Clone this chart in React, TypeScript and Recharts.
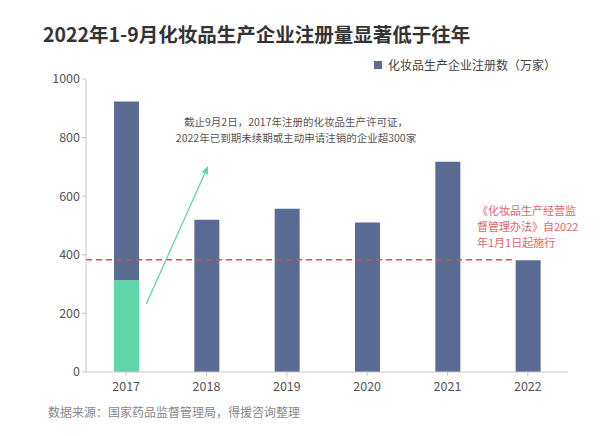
import {
  ComposedChart,
  Bar,
  XAxis,
  YAxis,
  Legend,
  ReferenceLine,
} from 'recharts';

const years = ['2017', '2018', '2019', '2020', '2021', '2022'];
// registered producers per year (2022: Jan-Sep)
const registered = [923, 520, 557, 510, 718, 381];
// part of 2017 registrations expired / cancelled by 2022
const expired = [313, 0, 0, 0, 0, 0];
const yTicks = [0, 200, 400, 600, 800, 1000];

// 2022 level marker and the arrow; x in bands (0 = left edge, 6 = right edge)
const markerLevel = 383;
const markerSpan = [0, 5.3];
const arrowFrom = { x: 0.75, y: 232 };
const arrowTo = { x: 1.52, y: 703 };

// the hidden helper axis resolves to [0, n - 1], so map band units onto it
const BAND_AXIS_MAX = years.length - 1;
const toAxis = (band: number) => (band * BAND_AXIS_MAX) / years.length;

const COLORS = {
  bar: '#5a6b94',
  expired: '#5fd6a9',
  marker: '#dd4b52',
  markerText: '#e2656a',
  axis: '#c8c8cc',
  tick: '#555',
};

const FONT = '"Noto Sans CJK SC", "Noto Sans", sans-serif';

const data = years.map((year, i) => ({
  year,
  expired: expired[i],
  remaining: registered[i] - expired[i],
}));

const LegendBox = () => (
  <div style={{ display: 'flex', alignItems: 'center', fontSize: 12, color: '#444', fontFamily: FONT }}>
    <span style={{ width: 8, height: 8, background: COLORS.bar, marginRight: 6, display: 'inline-block' }} />
    化妆品生产企业注册数（万家）
  </div>
);

const Arrow = (props: any) => {
  const { x1, y1, x2, y2 } = props;
  const ang = Math.atan2(y2 - y1, x2 - x1);
  const len = 8;
  const w = 3.5;
  const bx = x2 - len * Math.cos(ang);
  const by = y2 - len * Math.sin(ang);
  const p1 = `${bx + w * Math.sin(ang)},${by - w * Math.cos(ang)}`;
  const p2 = `${bx - w * Math.sin(ang)},${by + w * Math.cos(ang)}`;
  return (
    <g>
      <line x1={x1} y1={y1} x2={bx} y2={by} stroke={COLORS.expired} strokeWidth={1.3} />
      <polygon points={`${x2},${y2} ${p1} ${p2}`} fill={COLORS.expired} />
    </g>
  );
};

export default function App() {
  return (
    <div style={{ position: 'absolute', left: 0, top: 0, width: 600, height: 436, background: '#fff', fontFamily: FONT }}>
      <div style={{ position: 'absolute', left: 43, top: 19, fontSize: 19.5, fontWeight: 700, color: '#333', whiteSpace: 'nowrap' }}>
        2022年1-9月化妆品生产企业注册量显著低于往年
      </div>

      <ComposedChart width={600} height={436} data={data} margin={{ top: 62, right: 32, left: 0, bottom: 34 }}>
        <XAxis
          dataKey="year"
          axisLine={{ stroke: COLORS.axis }}
          tickLine={{ stroke: COLORS.axis }}
          tickSize={4}
          tickMargin={6}
          height={30}
          tick={{ fontSize: 12.5, fill: COLORS.tick, fontFamily: FONT }}
        />
        <XAxis xAxisId="band" type="number" domain={[0, BAND_AXIS_MAX]} allowDataOverflow hide />
        <YAxis
          domain={[0, 1000]}
          ticks={yTicks}
          width={86}
          axisLine={{ stroke: COLORS.axis }}
          tickLine={{ stroke: COLORS.axis }}
          tickSize={4}
          tickMargin={2}
          tick={{ fontSize: 12.5, fill: COLORS.tick, fontFamily: FONT }}
        />
        <Legend
          verticalAlign="top"
          align="left"
          content={<LegendBox />}
          wrapperStyle={{ top: 56, left: 374, width: 200 }}
        />
        <Bar dataKey="expired" stackId="a" fill={COLORS.expired} barSize={25} isAnimationActive={false} legendType="none" />
        <Bar dataKey="remaining" stackId="a" fill={COLORS.bar} barSize={25} isAnimationActive={false} />
        <ReferenceLine
          xAxisId="band"
          segment={[
            { x: toAxis(markerSpan[0]), y: markerLevel },
            { x: toAxis(markerSpan[1]), y: markerLevel },
          ]}
          ifOverflow="visible"
          stroke={COLORS.marker}
          strokeWidth={1.6}
          strokeDasharray="6 4"
        />
        <ReferenceLine
          xAxisId="band"
          segment={[
            { x: toAxis(arrowFrom.x), y: arrowFrom.y },
            { x: toAxis(arrowTo.x), y: arrowTo.y },
          ]}
          ifOverflow="visible"
          shape={<Arrow />}
        />
      </ComposedChart>

      <div style={{ position: 'absolute', left: 146, top: 114, width: 300, textAlign: 'center', fontSize: 10.5, lineHeight: '15.5px', color: '#555' }}>
        截止9月2日，2017年注册的化妆品生产许可证，
        <br />
        2022年已到期未续期或主动申请注销的企业超300家
      </div>

      <div style={{ position: 'absolute', left: 477, top: 202, fontSize: 11, lineHeight: '16px', color: COLORS.markerText, whiteSpace: 'nowrap' }}>
        《化妆品生产经营监
        <br />
        督管理办法》自2022
        <br />
        年1月1日起施行
      </div>

      <div style={{ position: 'absolute', left: 48, top: 403, fontSize: 12, color: '#888', whiteSpace: 'nowrap' }}>
        数据来源：国家药品监督管理局，得援咨询整理
      </div>
    </div>
  );
}
